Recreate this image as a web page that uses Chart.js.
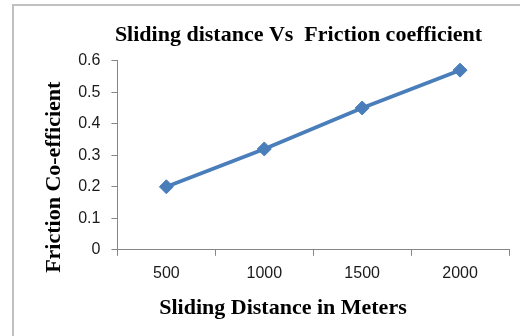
<!DOCTYPE html>
<html>
<head>
<meta charset="utf-8">
<script src="https://cdn.jsdelivr.net/npm/chart.js@4/dist/chart.umd.min.js"></script>
<style>
  html, body { margin: 0; padding: 0; background: #fff; }
  #wrap { position: relative; width: 520px; height: 336px; overflow: hidden; }
  #frame { position: absolute; left: 12px; top: 4px; width: 600px; height: 400px;
           border-left: 2px solid #c0c0c0; border-top: 2px solid #c0c0c0; }
  canvas { position: absolute; left: 0; top: 0; }
</style>
</head>
<body>
<div id="wrap">
  <div id="frame"></div>
  <canvas id="c" width="520" height="336"></canvas>
</div>
<script>
const categories = ['500', '1000', '1500', '2000'];
const frictionValues = [0.2, 0.32, 0.45, 0.57];
const chartTitle = 'Sliding distance Vs  Friction coefficient';
const xTitle = 'Sliding Distance in Meters';
const yTitle = 'Friction Co-efficient';

// non-breaking spaces used only to nudge centred titles like the original
const nb = n => '\u00a0'.repeat(n);
const serifBold = { family: '"Liberation Serif", "Times New Roman", serif', size: 22, weight: 'bold' };
const tickFont = { family: '"Liberation Sans", Arial, sans-serif', size: 16 };

new Chart(document.getElementById('c'), {
  type: 'line',
  data: {
    labels: categories,
    datasets: [{
      data: frictionValues,
      borderColor: '#4a7ebb',
      backgroundColor: '#4a7ebb',
      borderWidth: 3.75,
      pointStyle: 'rectRot',
      pointRadius: 7,
      pointBorderWidth: 1,
      pointHoverRadius: 7,
      tension: 0,
      fill: false
    }]
  },
  options: {
    responsive: false,
    animation: false,
    devicePixelRatio: 1,
    layout: { padding: { left: 0, right: 11, top: 0, bottom: 0 } },
    plugins: {
      legend: { display: false },
      tooltip: { enabled: false },
      title: {
        display: true,
        text: nb(16) + chartTitle,
        color: '#000',
        font: serifBold,
        padding: { top: 22, bottom: 12.3 }
      }
    },
    scales: {
      x: {
        offset: true,
        grid: { offset: true, drawOnChartArea: false, drawTicks: true, tickLength: 6, color: '#868686' },
        border: { color: '#868686', width: 1 },
        ticks: { color: '#1a1a1a', font: tickFont, padding: 8.5 },
        title: {
          display: true, text: xTitle + nb(11), color: '#000',
          font: serifBold,
          padding: { top: 3.6, bottom: 14 }
        }
      },
      y: {
        min: 0, max: 0.6,
        ticks: { stepSize: 0.1, color: '#1a1a1a', font: tickFont, padding: 11 },
        grid: { drawOnChartArea: false, drawTicks: true, tickLength: 6, color: '#868686' },
        border: { color: '#868686', width: 1 },
        title: {
          display: true, text: yTitle + nb(8), color: '#000',
          font: serifBold,
          padding: { top: 40.8, bottom: 0 }
        }
      }
    }
  }
});
</script>
</body>
</html>
